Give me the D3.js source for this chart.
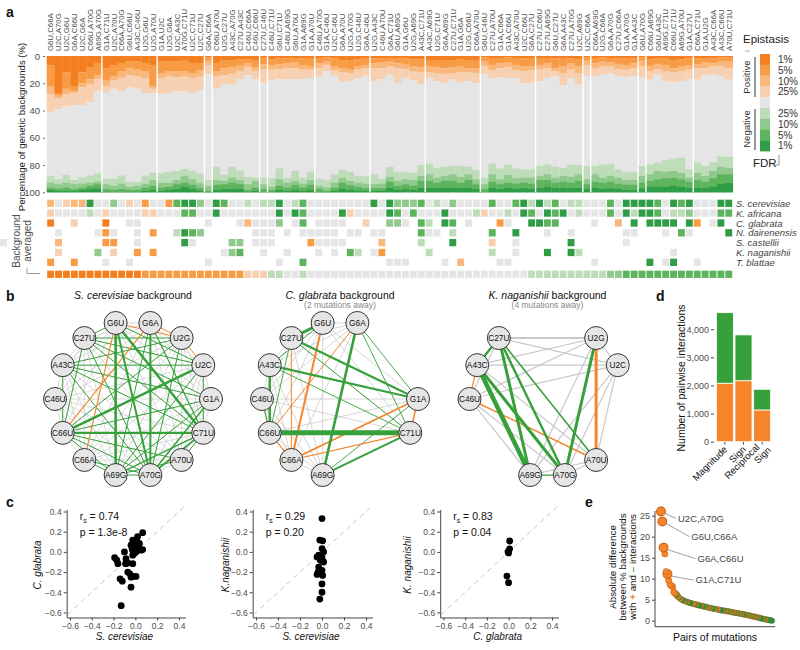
<!DOCTYPE html>
<html><head><meta charset="utf-8">
<script src="https://cdn.jsdelivr.net/npm/d3@7"></script>
<style>
body{margin:0;background:#fff;}
svg text{font-family:"Liberation Sans", Arial, Helvetica, sans-serif;}
</style></head><body>
<svg id="chart" width="800" height="650"></svg>
<script>
// ================= DATA =================
const pairLabels = [
 "G6U,C66A","U2C,A70G","U2C,G6U","G6A,C66U","U2C,G6A","C66U,A70G","A69G,A70G",
 "G1A,C71U","U2C,A70U","C66A,A70G","G6U,C66U","A43C,C46U","U2G,G6U","U2G,A70U",
 "G1A,U2C","U2G,G6A","U2C,A43C","A70G,C71U","U2C,C71U","U2C,C27U",
 "G6A,C66A",
 "C66U,A70U","U2G,C27U","A43C,A70G","C27U,A43C","C46U,C66A","C46U,C66U",
 "C27U,C46U",
 "C46U,C71U","G6U,C71U","C46U,A69G","G6U,A70U","G1A,A69G","G1A,A70U",
 "C46U,A70G","G1A,C46U","U2C,C46U","G6A,A70U","U2G,A70G","U2G,C46U","G6A,C46U",
 "U2G,A43C","C46U,A70U","G6A,C71U","G6U,A69G","G1A,G6U","U2G,A69G","A43C,C71U",
 "A43C,A69G","U2G,C71U","G6A,A69G","C27U,C71U","G1A,G6A","U2G,C66U","C66A,A70U",
 "G6U,C46U","C27U,A70U","G1A,C66A","G1A,C66U","A43C,A70U","U2C,C66U","G6A,C27U",
 "C27U,C66U","C27U,A69G","G6U,C27U","G6A,A43C","C27U,A70G","U2C,A69G",
 "U2C,C66A",
 "C66A,A69G","U2G,C66A","G6A,A70G","C27U,C66A","G1A,A70G","G1A,A43C",
 "G6U,A70G",
 "C66U,A69G","G6U,A43C","A69G,C71U","C66U,C71U","A69G,A70U","G1A,C27U",
 "C66A,C71U","G1A,U2G","A43C,C66A","A43C,C66U","A70U,C71U"
];
const groupSizes = [7,7,6,1,6,1,6,7,7,7,7,6,1,6,1,6,5];

// cumulative % of backgrounds with positive epistasis at FDR 1/5/10/25 %
const posFDR1  = [7,27,12,22,12,8,5, 9,6.5,5,4,4,5,6.5, 4,4,4,3.4,5,5, 1, 5,3.4,3,2.5,2.5,2.9, 1.7, 2.5,1.7,1.7,1.4,1.7,1.9, 1.4,1,1.7,2.9,2.9,2.4,1.9, 1.7,1.4,1.4,1.4,1.7,2.4,2.4, 2.9,3.4,3.4,2.9,2.4,2.9,3.4, 1,1.4,1.4,1,1.4,1.7,1.9, 1.9,1.4,1.7,1.9,1.7,2.4, 1, 1.4,1,1.4,1.7,1.9,1.7, 1, 2.4,1.7,1.9,2.9,2.4,1.7, 1.7,1.4,1.7,1,1];
const posFDR5  = [22,29,24,26,20,17,14, 18,15,11,9,10,11,22, 12.5,11,11,11,12.5,10.5, 3.4, 11,9,8,7,5,8, 6, 6.5,5.8,5.3,4.8,6.5,7.7, 5.3,4.1,7.7,8.9,10,7.7,6.5, 5.3,4.8,4.1,5.3,5.8,7.7,8.2, 7.7,8.2,8.9,8.2,7.7,8.9,8.9, 4.1,6.5,5.3,4.8,6.5,7.7,7.2, 6.5,5.3,8.9,7.2,5.3,7.7, 3.4, 5.3,4.1,4.8,5.8,6.5,5.3, 3.4, 7.7,5.8,6.5,8.9,7.7,6.5, 5.8,4.8,5.3,4.1,4.1];
const posFDR10 = [28,31,28,27,23,21,17, 22,18,16,14,15,16,24, 16,15,15.5,15,16,15, 6.5, 15,14,13,11,8,11, 10, 10,9.6,8.9,8.9,10,10, 8.9,6.5,10.5,12,12.5,10,8.9, 8.9,8.9,7.7,8.9,9.6,11.3,12, 12,12.5,13,12.5,12,12,12.5, 7.2,10.6,8.9,8.2,10.6,11.3,10.6, 10,8.9,11.3,12.5,9.6,12.5, 6.5, 8.9,7.7,7.7,9.6,10,8.9, 7.7, 11.3,9.6,11.3,12,11.3,10, 8.9,8.9,7.7,7.2,8.9];
const posFDR25 = [41,39,37,36,36,34,26, 27,24,26,23,24,27,27, 28,27,26,26,27,25, 13, 24,21,21,17,14,17, 20, 18,17,17,17,16.8,16, 15,11,14.4,19,18.5,16,14.4, 18.5,17,13.7,20,16,17.8,21, 16,18.5,20,17.3,19.6,18.5,20, 13,16,15.3,16,16,20,19.6, 18.5,16,14.9,21.3,16,20.9, 14.4, 14.9,13.7,12.5,14.9,15.3,14.9, 15.3, 17.3,13.7,18.5,19.2,18.5,16.8, 17.3,14.4,13.7,14.9,17.3];
// cumulative % of backgrounds with negative epistasis at FDR 1/5/10/25 %
const negFDR1  = [1.7,1.2,1.2,1.2,1.7,2.4,3, 0.7,0.5,0.7,0.5,0.7,1.2,1.7, 1.2,1.7,2.4,4,2.4,1.2, 0.2, 1.7,2.4,2.4,2.4,0.7,1.2, 0.7, 0.7,1.7,1.2,1.7,1.2,1.7, 0.7,0,1.2,2.4,1.7,1.2,1.2, 1.2,1.2,3.6,1.7,2.4,1.7,3.6, 3.6,3.1,3.6,3.6,3.1,3.6,2.4, 0.7,3.6,2.4,3.6,2.4,3.1,2.4, 3.6,4,3.1,3.6,3.1,3.6, 2.4, 3.6,2.4,3.1,2.4,1.7,1.7, 3.1, 4,4,4,4.8,4,3.1, 3.6,3.1,4,6.5,7.2];
const negFDR5  = [3.6,2.9,3.6,2.4,3.6,4.8,6, 2.4,1.7,2.4,1.7,1.7,3.6,4.8, 3.6,4,6,7,5.5,3.6, 1.2, 5.5,6,7.2,6,1.7,3.6, 2.4, 1.7,4.8,3.6,5.5,3.6,5.5, 2.4,1.2,3.6,7.2,5.3,4,3.1, 3.1,3.1,8,4.8,6,4.8,8.4, 8.4,7.2,8.4,8.4,7.2,9,6, 2.4,8,6,7.2,6.5,7.2,6.5, 9,9,7.2,8,7.2,8.4, 6, 8,7.2,8,6.5,5.5,5.5, 7.2, 8.4,9.6,10.4,10.8,9.6,8, 9,8,10.4,13.3,13.3];
const negFDR10 = [7,6,7,6,6.5,7,8, 6,4.8,6.5,4,4.8,6.5,9, 7,7,9,12,9.6,7, 4.8, 9,8.4,10.8,9,6,8.4, 6, 4,9.6,7.2,8.4,6.5,9, 4.8,3.6,7.2,10.8,8.4,7.2,6.5, 6,6.5,11.3,8.4,9.6,9,12, 13.3,10.8,12,13.3,11.3,13.3,9.6, 6,13.3,9.6,12.8,10.4,10.8,10.8, 12,13.3,10.8,12,11.3,13.3, 9.6, 13.3,10.8,12,10.8,9,9, 12, 13.3,15.7,15.2,15.7,14.5,10.8, 14.5,12,15.7,18.6,18];
const negFDR25 = [12,9.6,13,9,11,12.5,14, 10,10,12.5,7.7,7.7,12.5,14.5, 14,15,15.7,17.3,15.7,13.7, 9, 18.8,12.8,18.8,15.7,11.3,10.8, 10.8, 10.4,17.6,10.8,15.7,10.8,15.2, 10,9,13.3,16.4,15,12,11.8, 13.3,10,18.8,15,15,14.5,20, 21.2,18,18.8,19.3,19.3,18.8,16.4, 10.8,21.2,17.6,20.5,17.6,16.9,16.9, 19.3,20.5,18.8,18,20.5,20, 19.3, 19.3,20.5,21,16.9,15,15, 19.3, 20.5,21.7,23.6,24.6,25.3,16.9, 21.7,19.3,22.2,26.5,26];

// significance class per pair and species: a=+1% b=+5% c=+10% d=+25% n=n.s. w=-25% x=-10% y=-5% z=-1% .=no data
const speciesNames = ["S. cerevisiae","K. africana","C. glabrata","N. dairenensis","S. castellii","K. naganishii","T. blattae"];
const speciesRows = [
 "cndccznnxndnbnnbyzzxnzynnwnwwznwynnnnnnnnznzxxxynwnxnnnnynnyzwzwynwwnnnynzzzzynzyznnnzz",
 "dnnnnwndnnnnddnnnyynnznnnnnnnznzynnnnzdnnnnzynynnnznnnwdnnwnzynzyznwnnnynzwzzynwwxnnnyy",
 "a..d...a..nn........n...ncnnnx.ny.nnnn..d..xxn.yw.zy.n...bn..zzyy....n..c.z.zzzz.zb.nz.",
 ".n....nbn..n.b..wzyx......nnn.n.nnnnn.nn.nn....ynn.w....y..z...n..n......nn...n.yn....z",
 ".c.....bb..n.....zn....xx.nnn....bnnnn....c....w...z....d..n......z......n.............n",
 ".d....x.d..b.b........nxy..n..n...n.n.yw.nb.....w.......w..n...z..zw...........n......",
 "b..b...n..n.........n........n..y..........nnn....n.c....nn..........n......z.nz..n...."
];
const averagedRow = "aaaaaaaaaaaabbbbbbbbbbbbbdddwwnnwnnnnnnnnnnnnnnnnnnnnnnnnnnnnwwwwwwwwwwxxyyyyyyyyyyyyyy";

const yTicksA = [0,20,40,60,80,100];
const legendLabels = ["1%","5%","10%","25%","","25%","10%","5%","1%"];

// networks
const nodeOrder = ["G1A","C71U","A70U","A70G","A69G","C66A","C66U","C46U","A43C","C27U","G6U","G6A","U2G","U2C"];
const cerevisiaeNodes = nodeOrder.slice();
const glabrataNodes = ["G1A","C71U","A69G","C66A","C66U","C46U","A43C","C27U","G6U","G6A"];
const naganishiiNodes = ["U2G","U2C","A70U","A70G","A69G","C46U","A43C","C27U"];
const cerevisiaeEdges = [
 ["G6U","A69G","-",2.6],["G6U","C71U","-",2.4],["G6U","A70G","-",2.0],["G6A","A70G","-",2.0],["U2C","C66U","-",2.6],["C66U","C71U","-",2.2],
 ["A70G","C71U","-",1.8],["A69G","C71U","-",1.4],["G1A","A70G","-",1.4],["G6A","C71U","-",1.2],
 ["C27U","C71U","-",1],["C27U","U2G","-",1],["C27U","G1A","-",1],["C27U","C66U","-",1],["C27U","A70G","-",1],["C27U","U2C","-",1],["G6U","C27U","-",1],
 ["A43C","U2C","-",1],["A43C","G1A","-",1],["A43C","C66U","-",1],["A43C","C71U","-",1],["A43C","A70G","-",1],["A43C","U2G","-",1],
 ["C66U","A69G","-",1],["C66U","A70G","-",1],["C66U","A70U","-",1],["C66A","A70G","-",1],["C66A","A69G","-",1],["A69G","A70G","-",1],["A69G","A70U","-",1],
 ["G6U","U2C","-",1],["U2G","C66U","-",1],["U2G","A70G","-",1],["U2C","C71U","-",1],["U2C","A69G","-",1],["G1A","C66U","-",1],["C71U","A70U","-",1],["G1A","A69G","-",1],["G6A","A69G","-",1],
 ["G6U","C66A","+",1.1],["G6A","C66U","+",1.1],["G6U","U2G","+",1],["G6A","U2G","+",1],["U2G","U2C","+",1]
];
const glabrataEdges = [
 ["C66U","C71U","-",5],["G6A","A69G","-",2.6],["C27U","G1A","-",2.2],["A43C","G1A","-",2.2],["C27U","G6U","-",3],["A43C","C66U","-",2.4],["A69G","C71U","-",2],
 ["C27U","C71U","-",1],["A43C","C71U","-",0.9],["G6A","G1A","-",0.9],["G6A","C71U","-",0.9],["A69G","G1A","-",0.9],["C27U","C66U","-",0.9],["G6U","A43C","-",0.9],["C46U","C66U","-",1.2],
 ["G6U","C66A","+",2],["G6A","C66U","+",1],["C27U","C66A","+",1],["G1A","C66A","+",1.8],["C71U","C66A","+",1.2],["G1A","C71U","+",1.5],["C66U","C66A","+",1.2]
];
const naganishiiEdges = [
 ["C27U","U2G","0",2],
 ["A43C","A69G","-",4.5],["A43C","A70G","-",3],["C27U","A69G","-",3],["C27U","A70G","-",2.4],["U2G","A70G","-",3],["C27U","A43C","-",2.4],["C27U","A70U","-",1.5],["A69G","A70G","-",1.2],
 ["U2G","A70U","+",3],["C46U","A70U","+",1.5],["A43C","C46U","+",1.2]
];

// scatter data (interaction scores)
const cerVsGla = [[0.067,0.19],[0.02,0.15],[-0.024,0.117],[-0.01,0.083],[-0.04,0.067],[0.006,0.05],[0.037,0.033],[0.052,0.017],[-0.024,0.017],[0.006,0],[-0.01,-0.017],[-0.024,-0.033],[0.02,0.023],[0.067,0.023],[-0.1,0.0],[-0.19,-0.057],[-0.17,-0.083],[-0.16,-0.117],[-0.086,-0.067],[-0.07,-0.11],[-0.09,-0.117],[-0.024,-0.117],[-0.07,-0.2],[-0.05,-0.217],[-0.024,-0.243],[0.006,-0.243],[-0.04,-0.25],[-0.14,-0.267],[-0.12,-0.29],[-0.04,-0.35],[-0.13,-0.533],[-0.03,0.033],[0,0.067],[0.037,0.083],[0.01,0.11],[-0.02,0.01]];
const cerVsNag = [[0.0,0.33],[-0.02,0.117],[0.006,0.11],[0,0.033],[0.015,0],[-0.03,-0.033],[-0.045,-0.05],[0,-0.057],[-0.015,-0.083],[0.015,-0.1],[-0.03,-0.15],[0,-0.183],[-0.036,-0.2],[-0.015,-0.217],[0.006,-0.233],[-0.045,-0.223],[0,-0.317],[0,-0.4],[-0.02,-0.467]];
const glaVsNag = [[0.01,0.108],[0.01,0.03],[0,-0.01],[-0.005,0.003],[-0.015,-0.24],[0,-0.305]];
const scatterStats = [["0.74","1.3e-8"],["0.29","0.20"],["0.83","0.04"]];
const scatterTicks = [-0.6,-0.4,-0.2,0,0.2,0.4];

// panel d
const dCategories = ["Magnitude","Sign","Reciprocal Sign"];
const dPositive = [2080,2170,1130];
const dNegative = [2510,1630,735];
const dTicks = [0,1000,2000,3000,4000];

// panel e
const eValues = [26.0,23.6,17.4,15.9,11.7,11.1,9.6,8.6,8.3,8.1, 6.8,6.5,6.2,5.8,5.5,5.2,5.0,4.9,4.7,4.6, 4.5,4.4,4.3,4.2,4.1,4.0,3.9,3.9,3.8,3.7, 3.6,3.6,3.5,3.4,3.3,3.3,3.2,3.1,3.0,3.0, 2.9,2.8,2.8,2.7,2.7,2.6,2.5,2.5,2.4,2.4, 2.3,2.3,2.2,2.2,2.1,2.0,2.0,1.9,1.9,1.8, 1.8,1.7,1.6,1.6,1.5,1.5,1.4,1.3,1.3,1.2, 1.1,1.0,1.0,0.9,0.8,0.8,0.7,0.6,0.5,0.5, 0.4,0.3,0.3,0.2,0.1,0.1,0.0];
const eSigns = "oooooooooooo"+"gogoggogogggoogogggoggogogoggogoogggogogogogogogogoggogogogogogogggogo";
const eLabels = [[0,"U2C,A70G"],[1,"G6U,C66A"],[2,"G6A,C66U"],[5,"G1A,C71U"]];
const eTicks = [0,5,10,15,20,25];

// ================= DRAWING =================
const svg = d3.select("#chart");
const levelKeys = ["a","b","c","d","n","w","x","y","z"];
const levelColor = {a:"#f37f21",b:"#f89b45",c:"#f9b77c",d:"#f6d0b0",n:"#e5e5e5",w:"#bedcba",x:"#8fc98b",y:"#5db45c",z:"#2f9d45"};
const GREEN="#36a03a", ORANGE="#f5842a", TXT="#4d4d4d";

function panelLetter(t,x,y){svg.append("text").attr("x",x).attr("y",y).attr("font-size",14).attr("font-weight","bold").attr("fill","#111").text(t);}
panelLetter("a",6,17); panelLetter("b",6,301); panelLetter("c",6,507); panelLetter("d",656,301); panelLetter("e",585,507);

// ---- Panel a: stacked bars
const xA = d3.scaleBand().domain(d3.range(pairLabels.length)).range([46.7,732.7]).padding(0);
const yA = d3.scaleLinear().domain([0,100]).range([56,192.3]);
const stackData = pairLabels.map((lab,i)=>{
  const b=[0,posFDR1[i],posFDR5[i],posFDR10[i],posFDR25[i],100-negFDR25[i],100-negFDR10[i],100-negFDR5[i],100-negFDR1[i],100];
  return levelKeys.map((k,j)=>({i,k,y0:b[j],y1:b[j+1]}));
});
const gA = svg.append("g");
gA.selectAll("g").data(stackData).join("g").selectAll("rect").data(d=>d).join("rect")
  .attr("x",d=>xA(d.i)).attr("width",xA.bandwidth()+0.35)
  .attr("y",d=>yA(d.y0)).attr("height",d=>Math.max(0,yA(d.y1)-yA(d.y0)+0.2))
  .attr("fill",d=>levelColor[d.k]);
const bounds = Array.from(d3.cumsum(groupSizes)).slice(0,-1);
gA.selectAll("line.sep").data(bounds).join("line")
  .attr("x1",d=>xA(d)).attr("x2",d=>xA(d)).attr("y1",yA(0)).attr("y2",yA(100))
  .attr("stroke","#fff").attr("stroke-width",1.4);
// y axis
const axA = svg.append("g").attr("transform","translate(45,0)")
  .call(d3.axisLeft(yA).tickValues(yTicksA).tickSize(2).tickPadding(3));
axA.select(".domain").remove();
axA.selectAll("line").attr("stroke","#666");
axA.selectAll("text").attr("font-size",9.5).attr("fill",TXT).style("font-family",'"Liberation Sans", Arial, sans-serif');
svg.append("text").attr("transform","translate(25,127) rotate(-90)").attr("text-anchor","middle")
  .attr("font-size",9.6).attr("fill","#222").text("Percentage of genetic backgrounds (%)");
// column labels
svg.append("g").selectAll("text").data(pairLabels).join("text")
  .attr("transform",(d,i)=>`translate(${xA(i)+xA.bandwidth()/2+2.8},51) rotate(-90)`)
  .attr("font-size",7.8).attr("fill",TXT).text(d=>d);

// heatmap
const rowCenters = [203.3,213.1,223,232.8,242.6,252.5,262.3];
const avgCenter = 274.3;
const cellH = 7.3, cellW = xA.bandwidth()-1;
const cells = [];
speciesRows.forEach((row,r)=>row.split("").forEach((c,i)=>{ if(c!==".") cells.push({i,c,yc:rowCenters[r]}); }));
averagedRow.split("").forEach((c,i)=>cells.push({i,c,yc:avgCenter}));
svg.append("g").selectAll("rect").data(cells).join("rect")
  .attr("x",d=>xA(d.i)+0.5).attr("y",d=>d.yc-cellH/2).attr("width",cellW).attr("height",cellH)
  .attr("fill",d=>levelColor[d.c]);
svg.append("g").selectAll("text").data(speciesNames).join("text")
  .attr("x",736).attr("y",(d,i)=>rowCenters[i]+3.5).attr("font-size",9.5).attr("font-style","italic").attr("fill","#444").text(d=>d);
const bgText = svg.append("text").attr("transform","translate(20,241) rotate(-90)").attr("text-anchor","middle").attr("font-size",10).attr("fill",TXT);
bgText.append("tspan").attr("x",0).attr("dy",0).text("Background");
bgText.append("tspan").attr("x",0).attr("dy",10.5).text("averaged");
svg.append("path").attr("d","M27,267.5V273.5H40").attr("fill","none").attr("stroke","#999").attr("stroke-width",1);

// legend
svg.append("text").attr("x",743).attr("y",43).attr("font-size",11.5).attr("fill","#222").text("Epistasis");
svg.append("line").attr("x1",745).attr("x2",750).attr("y1",51).attr("y2",51).attr("stroke","#aaa");
const legY0 = 54, legH = 10.8;
svg.append("g").selectAll("rect").data(levelKeys).join("rect")
  .attr("x",760).attr("y",(d,i)=>legY0+i*legH).attr("width",10).attr("height",legH+0.2).attr("fill",d=>levelColor[d]);
svg.append("g").selectAll("text").data(legendLabels).join("text")
  .attr("x",778).attr("y",(d,i)=>legY0+i*legH+legH/2+3.5).attr("font-size",10).attr("fill","#333").text(d=>d);
svg.append("line").attr("x1",755).attr("x2",755).attr("y1",57).attr("y2",97).attr("stroke","#333");
svg.append("line").attr("x1",755).attr("x2",755).attr("y1",109).attr("y2",150).attr("stroke","#333");
svg.append("text").attr("transform","translate(750,77) rotate(-90)").attr("text-anchor","middle").attr("font-size",9.5).attr("fill","#333").text("Positive");
svg.append("text").attr("transform","translate(750,129) rotate(-90)").attr("text-anchor","middle").attr("font-size",9.5).attr("fill","#333").text("Negative");
svg.append("text").attr("x",753).attr("y",167).attr("font-size",11.5).attr("fill","#222").text("FDR");
svg.append("path").attr("d","M779,155V165H775").attr("fill","none").attr("stroke","#999");

// ---- Panel b: networks
const angle = d3.scaleLinear().domain([0,nodeOrder.length]).range([0,2*Math.PI]);
const R = 78;
function drawNetwork(cx,cy,nodes,edges,greyW,greyCol,title,sub){
  const pos = {};
  nodes.forEach(n=>{const a=angle(nodeOrder.indexOf(n)); pos[n]=[cx+R*Math.cos(a), cy+R*Math.sin(a)];});
  const g = svg.append("g");
  const key=(a,b)=>[a,b].sort().join("|");
  const special = new Set(edges.map(e=>key(e[0],e[1])));
  const greys=[];
  for(let i=0;i<nodes.length;i++)for(let j=i+1;j<nodes.length;j++){ if(!special.has(key(nodes[i],nodes[j]))) greys.push([nodes[i],nodes[j],"0",greyW]); }
  const all = greys.concat(edges.filter(e=>e[2]==="0"), edges.filter(e=>e[2]!=="0").sort((a,b)=>a[3]-b[3]));
  g.selectAll("line").data(all).join("line")
    .attr("x1",d=>pos[d[0]][0]).attr("y1",d=>pos[d[0]][1]).attr("x2",d=>pos[d[1]][0]).attr("y2",d=>pos[d[1]][1])
    .attr("stroke",d=>d[2]==="-"?GREEN:d[2]==="+"?ORANGE:greyCol).attr("stroke-width",d=>d[3]);
  const ng = g.selectAll("g.node").data(nodes).join("g").attr("transform",d=>`translate(${pos[d][0]},${pos[d][1]})`);
  ng.append("circle").attr("r",11.5).attr("fill","#e6e6e6").attr("stroke","#333").attr("stroke-width",1);
  ng.append("text").attr("text-anchor","middle").attr("y",3).attr("font-size",8.3).attr("fill","#111").text(d=>d);
  const t = svg.append("text").attr("x",cx).attr("y",299).attr("text-anchor","middle").attr("font-size",10.5).attr("fill","#111");
  t.append("tspan").attr("font-style","italic").text(title);
  t.append("tspan").text(" background");
  if(sub) svg.append("text").attr("x",cx).attr("y",307.5).attr("text-anchor","middle").attr("font-size",8.5).attr("fill","#888").text(sub);
}
drawNetwork(133,399,cerevisiaeNodes,cerevisiaeEdges,0.8,"#d2d2d2","S. cerevisiae",null);
drawNetwork(340,399,glabrataNodes,glabrataEdges,0.8,"#cccccc","C. glabrata","(2 mutations away)");
drawNetwork(547.5,399,naganishiiNodes,naganishiiEdges,1.2,"#c8c8c8","K. naganishii","(4 mutations away)");

// ---- Panel c: scatter plots
function scatter(data,xr,yLab,xLab,stats,yLabX){
  const xs = d3.scaleLinear().domain([-0.63,0.46]).range(xr);
  const ys = d3.scaleLinear().domain([-0.65,0.42]).range([617.5,509.5]);
  const g = svg.append("g");
  g.append("line").attr("x1",xs(-0.62)).attr("y1",ys(-0.62)).attr("x2",xs(0.45)).attr("y2",ys(0.45))
    .attr("stroke","#c8c8c8").attr("stroke-dasharray","5,4").attr("stroke-width",1);
  const fmt = d3.format(".1f");
  const ax = g.append("g").attr("transform",`translate(${xr[0]},0)`).call(d3.axisLeft(ys).tickValues(scatterTicks).tickSize(3).tickSizeOuter(0).tickPadding(2).tickFormat(fmt));
  const bx = g.append("g").attr("transform","translate(0,617.5)").call(d3.axisBottom(xs).tickValues(scatterTicks).tickSize(3).tickSizeOuter(0).tickPadding(2).tickFormat(fmt));
  [ax,bx].forEach(a=>{a.selectAll("line,path").attr("stroke","#444");a.selectAll("text").attr("font-size",8.5).attr("fill",TXT).style("font-family",'"Liberation Sans", Arial, sans-serif');});
  g.selectAll("circle").data(data).join("circle").attr("cx",d=>xs(d[0])).attr("cy",d=>ys(d[1])).attr("r",3.4).attr("fill","#000");
  const tx = xr[0]+13;
  const r = g.append("text").attr("x",tx).attr("y",520).attr("font-size",10.5).attr("fill","#111");
  r.append("tspan").text("r");
  r.append("tspan").attr("font-size",7).attr("dy",2.5).text("s");
  r.append("tspan").attr("dy",-2.5).text(" = "+stats[0]);
  g.append("text").attr("x",tx).attr("y",536).attr("font-size",10.5).attr("fill","#111").text("p = "+stats[1]);
  g.append("text").attr("transform",`translate(${yLabX},565) rotate(-90)`).attr("text-anchor","middle").attr("font-size",10).attr("font-style","italic").attr("fill","#111").text(yLab);
  g.append("text").attr("x",(xs(-0.6)+xs(0.4))/2).attr("y",640).attr("text-anchor","middle").attr("font-size",10).attr("font-style","italic").attr("fill","#111").text(xLab);
}
scatter(cerVsGla,[66.7,185.5],"C. glabrata","S. cerevisiae",scatterStats[0],41);
scatter(cerVsNag,[252.7,372.6],"K.naganishii","S. cerevisiae",scatterStats[1],229);
scatter(glaVsNag,[440.2,558.5],"K. naganishii","C. glabrata",scatterStats[2],411);

// ---- Panel d: stacked bars
const xD = d3.scaleBand().domain(dCategories).range([716,771]).paddingInner(0.09).paddingOuter(0.02);
const yD = d3.scaleLinear().domain([0,4600]).range([441.7,312.4]);
const gD = svg.append("g");
gD.selectAll("rect.pos").data(dCategories).join("rect").attr("x",d=>xD(d)).attr("width",xD.bandwidth())
  .attr("y",(d,i)=>yD(dPositive[i])).attr("height",(d,i)=>yD(0)-yD(dPositive[i])).attr("fill",ORANGE).attr("stroke","#fff").attr("stroke-width",0.8);
gD.selectAll("rect.neg").data(dCategories).join("rect").attr("x",d=>xD(d)).attr("width",xD.bandwidth())
  .attr("y",(d,i)=>yD(dPositive[i]+dNegative[i])).attr("height",(d,i)=>yD(dPositive[i])-yD(dPositive[i]+dNegative[i])).attr("fill",GREEN).attr("stroke","#fff").attr("stroke-width",0.8);
const axD = svg.append("g").attr("transform","translate(714,0)").call(d3.axisLeft(yD).tickValues(dTicks).tickSize(3).tickPadding(2));
axD.select(".domain").remove();
axD.selectAll("line").attr("stroke","#444");
axD.selectAll("text").attr("font-size",9).attr("fill",TXT).style("font-family",'"Liberation Sans", Arial, sans-serif');
svg.append("text").attr("transform","translate(685,378) rotate(-90)").attr("text-anchor","middle").attr("font-size",10.5).attr("fill","#111").text("Number of pairwise interactions");
dCategories.forEach(c=>{
  const cx = xD(c)+xD.bandwidth()/2;
  svg.append("line").attr("x1",cx).attr("x2",cx).attr("y1",442).attr("y2",444.5).attr("stroke","#444");
  const words = c.split(" ");
  const t = svg.append("text").attr("transform",`translate(${cx+3},${450}) rotate(-45)`).attr("text-anchor","end").attr("font-size",9.5).attr("fill","#111");
  if(words.length===1){ t.text(c); }
  else { t.append("tspan").attr("x",-2).attr("dy",-5).text(words[0]); t.append("tspan").attr("x",4).attr("dy",10).text(words[1]); }
});

// ---- Panel e: ranked differences
const xE = d3.scaleLinear().domain([0,eValues.length-1]).range([661,772]);
const yE = d3.scaleLinear().domain([0,25]).range([620.7,515.7]);
const gE = svg.append("g");
const axE = gE.append("g").attr("transform","translate(655,0)").call(d3.axisLeft(yE).tickValues(eTicks).tickSize(3).tickPadding(2));
axE.select(".domain").remove();
axE.selectAll("line").attr("stroke","#444");
axE.selectAll("text").attr("font-size",9).attr("fill",TXT).style("font-family",'"Liberation Sans", Arial, sans-serif');
gE.append("line").attr("x1",655).attr("x2",655).attr("y1",511).attr("y2",626.7).attr("stroke","#444");
gE.append("line").attr("x1",655).attr("x2",775).attr("y1",626.7).attr("y2",626.7).attr("stroke","#444");
gE.append("text").attr("x",715).attr("y",641).attr("text-anchor","middle").attr("font-size",10.5).attr("fill","#111").text("Pairs of mutations");
const labIdx = new Set(eLabels.map(d=>d[0]));
const eData = eValues.map((v,i)=>({i,v,s:eSigns[i]})).reverse();
gE.selectAll("circle").data(eData).join("circle")
  .attr("cx",d=>xE(d.i)).attr("cy",d=>yE(d.v))
  .attr("r",d=>labIdx.has(d.i)?4.4:(d.i<14?3.1:2.7))
  .attr("fill",d=>d.s==="o"?ORANGE:"#3f9a3f")
  .attr("stroke",d=>d.s==="o"?"#c75f10":"#2d7a2d").attr("stroke-width",d=>labIdx.has(d.i)?1.1:0.6);
const labOffsets = [[17,10],[29,18],[34,14],[28,9]];
eLabels.forEach((l,k)=>{
  const px=xE(l[0]), py=yE(eValues[l[0]]);
  const [dx,dy]=labOffsets[k];
  gE.append("line").attr("x1",px+4).attr("y1",py+2).attr("x2",px+dx-2).attr("y2",py+dy-3).attr("stroke","#888").attr("stroke-width",0.8);
  gE.append("text").attr("x",px+dx).attr("y",py+dy).attr("font-size",9.5).attr("fill","#444").text(l[1]);
});
const ey = svg.append("g").attr("transform","translate(0,567)");
ey.append("text").attr("transform","translate(616,0) rotate(-90)").attr("text-anchor","middle").attr("font-size",9.8).attr("fill","#111").text("Absolute difference");
ey.append("text").attr("transform","translate(626,0) rotate(-90)").attr("text-anchor","middle").attr("font-size",9.8).attr("fill","#111").text("between % backgrounds");
const e3 = ey.append("text").attr("transform","translate(636,0) rotate(-90)").attr("text-anchor","middle").attr("font-size",9.8).attr("fill","#111");
e3.append("tspan").text("with ");
e3.append("tspan").attr("fill",ORANGE).attr("font-weight","bold").text("+");
e3.append("tspan").text(" and ");
e3.append("tspan").attr("fill",GREEN).attr("font-weight","bold").text("\u2013");
e3.append("tspan").text(" interactions");
</script></body></html>
